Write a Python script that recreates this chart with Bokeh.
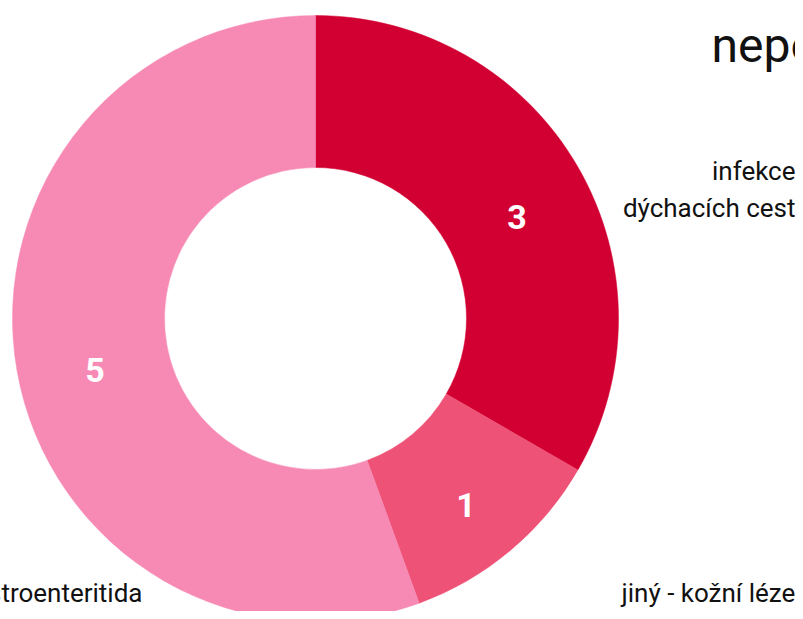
import math
from bokeh.plotting import figure
from bokeh.models import Range1d, ColumnDataSource
from bokeh.core.properties import value
from bokeh.embed import file_html
from bokeh.resources import INLINE

# ---- data ----
categories = ["infekce dýchacích cest", "jiný - kožní léze", "gastroenteritida"]
counts = [3, 1, 5]
colors = ["#D20032", "#EE5277", "#F78AB4"]
title_text = "nepolio"

# ---- layout (picture px -> data via ranges) ----
W, H = 795, 611
FONT = "Roboto"

p = figure(width=W, height=H, output_backend="svg", toolbar_location=None,
           x_range=Range1d(0, W), y_range=Range1d(0, H),
           min_border=0, outline_line_color=None)
p.axis.visible = False
p.grid.visible = False
p.background_fill_color = "white"


def sy(y):
    # picture y -> data y
    return H - y


cx, cy = 315, sy(318)
r_out, r_in = 303, 151

total = sum(counts)
starts, ends, mids = [], [], []
acc = 0
for c in counts:
    a0 = math.pi / 2 - 2 * math.pi * acc / total
    acc += c
    a1 = math.pi / 2 - 2 * math.pi * acc / total
    starts.append(a0)
    ends.append(a1)
    mids.append((a0 + a1) / 2)

src = ColumnDataSource(dict(x=[cx] * len(counts), y=[cy] * len(counts),
                            start=starts, end=ends, color=colors,
                            cat=categories, n=counts))
p.annular_wedge(x="x", y="y", inner_radius=r_in, outer_radius=r_out,
                start_angle="start", end_angle="end", direction="clock",
                fill_color="color", line_color="color", line_width=0.5,
                source=src)

# value labels inside the ring
r_lab = 228
lx = [cx + r_lab * math.cos(m) + 4 for m in mids]
ly = [cy + r_lab * math.sin(m) - 12 for m in mids]
p.text(x=lx, y=ly, text=[str(c) for c in counts],
       text_font=value(FONT), text_font_style="bold", text_font_size="34px",
       text_color="white", text_align="center", text_baseline="middle")

# category labels outside
p.text(x=[795, 795], y=[sy(170), sy(207)], text=["infekce", "dýchacích cest"],
       text_font=value(FONT), text_font_size="26px", text_color="#111111",
       text_align="right", text_baseline="middle")
p.text(x=[621], y=[sy(592)], text=[categories[1]],
       text_font=value(FONT), text_font_size="26px", text_color="#111111",
       text_align="left", text_baseline="middle")
p.text(x=[142], y=[sy(592)], text=[categories[2]],
       text_font=value(FONT), text_font_size="26px", text_color="#111111",
       text_align="right", text_baseline="middle")

# title (partially outside the visible area)
p.text(x=[711], y=[sy(45)], text=[title_text],
       text_font=value(FONT), text_font_size="48px", text_color="#111111",
       text_align="left", text_baseline="middle")

open("out.html", "w").write(file_html(p, INLINE))
